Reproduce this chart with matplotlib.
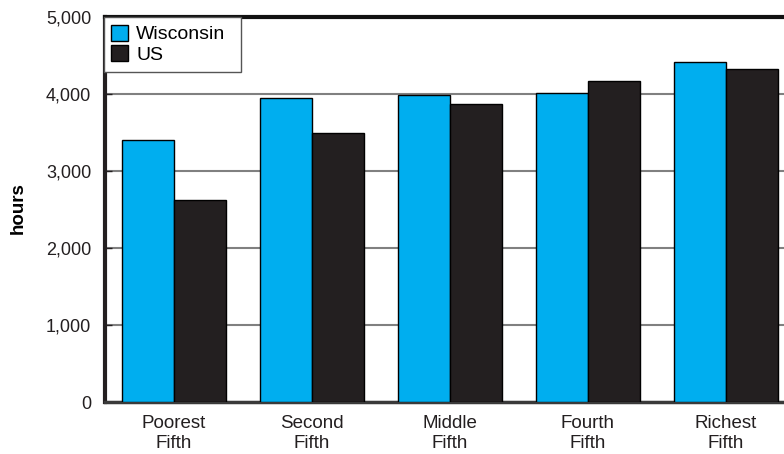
import matplotlib.pyplot as plt
import numpy as np

plt.rcParams['font.family'] = ['Liberation Sans', 'DejaVu Sans']

categories = ['Poorest\nFifth', 'Second\nFifth', 'Middle\nFifth', 'Fourth\nFifth', 'Richest\nFifth']
wisconsin = [3400, 3950, 3990, 4010, 4410]
us = [2620, 3500, 3870, 4170, 4320]
y_ticks = [0, 1000, 2000, 3000, 4000, 5000]
y_tick_labels = ['0', '1,000', '2,000', '3,000', '4,000', '5,000']

blue = '#00aeef'
dark = '#231f20'

fig = plt.figure(figsize=(7.84, 4.54), dpi=100)
ax = fig.add_axes([0.134, 0.1145, 0.880, 0.848])

x = np.arange(len(categories))
w = 0.374
ax.bar(x - w / 2, wisconsin, w, color=blue, edgecolor='black', linewidth=1, label='Wisconsin', zorder=3)
ax.bar(x + w / 2, us, w, color=dark, edgecolor='black', linewidth=1, label='US', zorder=3)

ax.set_xlim(-0.5, 4.5)
ax.set_ylim(0, 5000)
ax.set_yticks(y_ticks)
ax.set_yticklabels(y_tick_labels, fontsize=13, color='#231f20')
ax.set_xticks(x)
ax.set_xticklabels(categories, fontsize=13.5, color='#231f20', linespacing=1.25)
ax.tick_params(axis='x', length=0, pad=9)
ax.tick_params(axis='y', direction='in', length=5, width=1, color='#231f20', pad=10)

ax.yaxis.grid(True, color='#808080', linewidth=1.5, zorder=0)
ax.set_axisbelow(True)

ax.spines['top'].set_linewidth(3)
ax.spines['top'].set_color('#111111')
ax.spines['left'].set_linewidth(3)
ax.spines['left'].set_color('#231f20')
ax.spines['bottom'].set_linewidth(2.5)
ax.spines['bottom'].set_color('#3a3a3a')
ax.spines['right'].set_visible(False)

ax.set_ylabel('hours', fontsize=13.5, fontweight='bold')
ax.yaxis.set_label_coords(-0.114, 0.505)

# legend box stretched to a fixed width in the upper-left corner
leg = ax.legend(loc='upper left', bbox_to_anchor=(-0.002, 0.0, 0.199, 1.0), mode='expand',
                fontsize=14, fancybox=False, framealpha=1, edgecolor='#555555',
                handlelength=0.875, handleheight=0.875, handletextpad=0.4,
                borderpad=0.4, labelspacing=0.1, borderaxespad=0)
leg.get_frame().set_linewidth(1)
leg.set_zorder(5)

plt.savefig('out.png', dpi=100)
